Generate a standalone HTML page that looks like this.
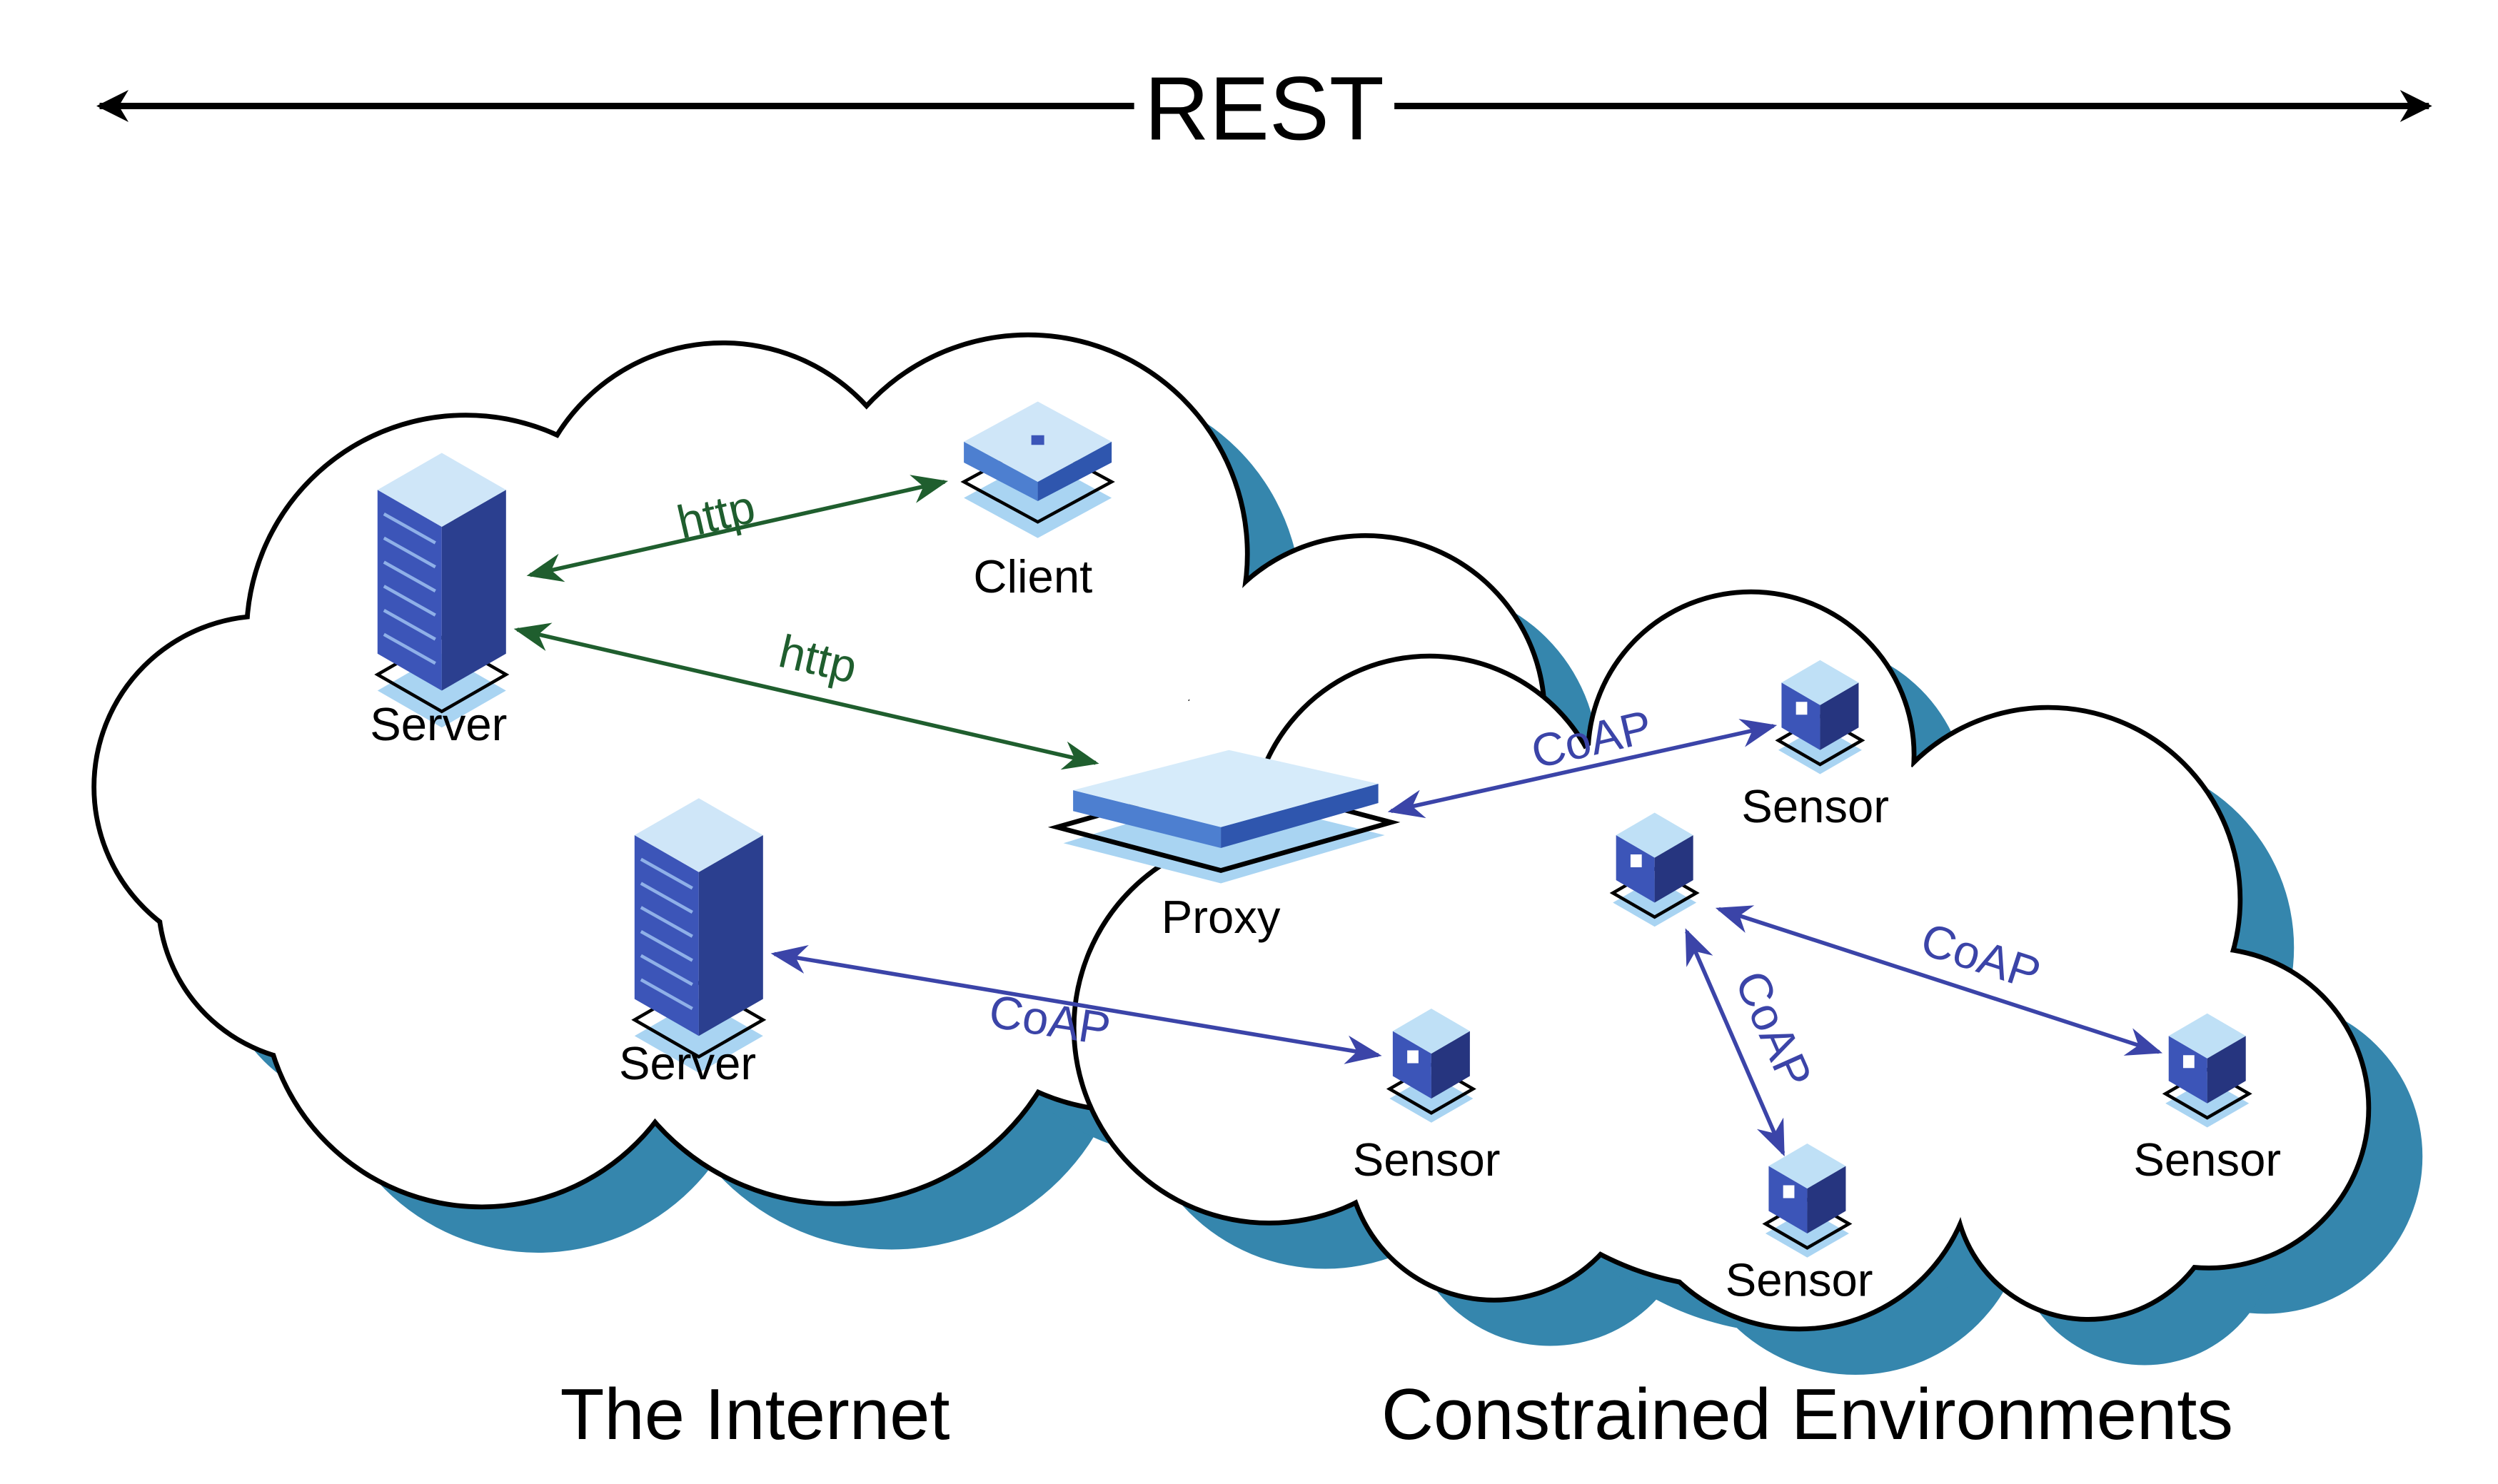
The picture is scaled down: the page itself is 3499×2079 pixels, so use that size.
<!DOCTYPE html>
<html><head><meta charset="utf-8"><style>
html,body{margin:0;padding:0;background:#fff;width:3499px;height:2079px;overflow:hidden}
svg{display:block}
text{font-family:"Liberation Sans",sans-serif}
</style></head><body>
<svg width="3499" height="2079" viewBox="0 0 1555 924" preserveAspectRatio="none" xmlns="http://www.w3.org/2000/svg">
<defs>
<marker id="ab" viewBox="0 0 10 10" refX="9" refY="5" markerWidth="5" markerHeight="5" orient="auto-start-reverse"><path d="M0,0 L10,5 L0,10 L3,5z" fill="#000"/></marker>
<marker id="ag" viewBox="0 0 10 10" refX="9" refY="5" markerWidth="9" markerHeight="9" orient="auto-start-reverse"><path d="M0,1 L10,5 L0,9 L3,5z" fill="#1f5e2e"/></marker>
<marker id="au" viewBox="0 0 10 10" refX="9" refY="5" markerWidth="9" markerHeight="9" orient="auto-start-reverse"><path d="M0,1 L10,5 L0,9 L3,5z" fill="#3b44a8"/></marker>
<g id="lc">
<circle cx="165" cy="490" r="105"/><circle cx="290" cy="395" r="135"/><circle cx="450" cy="335" r="120"/><circle cx="640" cy="345" r="135"/><circle cx="850" cy="445" r="110"/><circle cx="300" cy="615" r="135"/><circle cx="520" cy="600" r="148"/><circle cx="450" cy="480" r="200"/><circle cx="200" cy="560" r="100"/><circle cx="700" cy="560" r="130"/>
</g>
<g id="rc">
<circle cx="790" cy="640" r="120"/><circle cx="890" cy="520" r="110"/><circle cx="1090" cy="470" r="100"/><circle cx="1275" cy="560" r="118"/><circle cx="1375" cy="690" r="98"/><circle cx="1120" cy="718" r="108"/><circle cx="930" cy="718" r="90"/><circle cx="1300" cy="738" r="82"/><circle cx="1080" cy="620" r="180"/>
</g>
<g id="srv">
<path d="M-40,55 L0,78 L40,55 L0,32z" fill="#a9d4f2"/>
<path d="M-40,45 L0,68 L40,45 L0,22z" fill="none" stroke="#000" stroke-width="2"/>
<path d="M-40,-70 L0,-47 L0,55 L-40,32z" fill="#3c55b8"/>
<path d="M0,-47 L40,-70 L40,32 L0,55z" fill="#2b3f8f"/>
<path d="M-40,-70 L0,-93 L40,-70 L0,-47z" fill="#cfe6f8"/>
<g stroke="#8fb0e8" stroke-width="2"><path d="M-36,-55 L-4,-37 M-36,-40 L-4,-22 M-36,-25 L-4,-7 M-36,-10 L-4,8 M-36,5 L-4,23 M-36,20 L-4,38"/></g>
</g>
<g id="sen">
<path d="M-26,22 L0,37 L26,22 L0,7z" fill="#a9d4f2"/>
<path d="M-26,16 L0,31 L26,16 L0,1z" fill="none" stroke="#000" stroke-width="2"/>
<path d="M-24,-20 L0,-6 L0,22 L-24,8z" fill="#3c55b8"/>
<path d="M0,-6 L24,-20 L24,8 L0,22z" fill="#26357f"/>
<path d="M-24,-20 L0,-34 L24,-20 L0,-6z" fill="#bfe0f6"/>
<rect x="-15" y="-8" width="7" height="8" fill="#fff"/>
</g>
</defs>
<line x1="62" y1="66" x2="706" y2="66" stroke="#000" stroke-width="4" marker-start="url(#ab)"/>
<line x1="868" y1="66" x2="1512" y2="66" stroke="#000" stroke-width="4" marker-end="url(#ab)"/>
<text x="787" y="87" font-size="56" text-anchor="middle">REST</text>

<use href="#lc" transform="translate(35,30)" fill="#3586ad"/>
<use href="#lc" fill="#000" stroke="#000" stroke-width="6"/>
<use href="#lc" fill="#fff"/>
<use href="#rc" transform="translate(35,30)" fill="#3586ad"/>
<use href="#rc" fill="#000" stroke="#000" stroke-width="6"/>
<use href="#rc" fill="#fff"/>

<use href="#srv" x="275" y="375"/>
<use href="#srv" x="435" y="590"/>
<text x="273" y="461" font-size="29" text-anchor="middle">Server</text>
<text x="428" y="672" font-size="29" text-anchor="middle">Server</text>

<path d="M600,310 L646,335 L692,310 L646,285z" fill="#a9d4f2"/>
<path d="M600,300 L646,325 L692,300 L646,275z" fill="none" stroke="#000" stroke-width="2"/>
<path d="M600,275 L646,300 L646,312 L600,288z" fill="#4d7fd0"/>
<path d="M646,300 L692,275 L692,288 L646,312z" fill="#2f56ae"/>
<path d="M600,275 L646,250 L692,275 L646,300z" fill="#cfe6f8"/>
<rect x="642" y="271" width="8" height="6" fill="#3c55b8"/>
<text x="643" y="369" font-size="29" text-anchor="middle">Client</text>

<path d="M662,525 L760,550 L862,520 L760,495z" fill="#a9d4f2"/>
<path d="M658,515 L760,542 L866,512 L764,485z" fill="none" stroke="#000" stroke-width="3"/>
<path d="M668,492 L760,515 L760,528 L668,505z" fill="#4d7fd0"/>
<path d="M760,515 L858,488 L858,500 L760,528z" fill="#2f56ae"/>
<path d="M668,492 L765,467 L858,488 L760,515z" fill="#d6ebfa"/>
<text x="760" y="581" font-size="29" text-anchor="middle">Proxy</text>

<use href="#sen" x="1133" y="445"/>
<use href="#sen" x="1030" y="540"/>
<use href="#sen" x="891" y="662"/>
<use href="#sen" x="1125" y="746"/>
<use href="#sen" x="1374" y="665"/>
<g font-size="29" text-anchor="middle">
<text x="1130" y="512">Sensor</text>
<text x="888" y="732">Sensor</text>
<text x="1120" y="807">Sensor</text>
<text x="1374" y="732">Sensor</text>
</g>

<g stroke="#1f5e2e" stroke-width="2.5" fill="none">
<line x1="330" y1="358" x2="588" y2="300" marker-start="url(#ag)" marker-end="url(#ag)"/>
<line x1="322" y1="392" x2="682" y2="475" marker-start="url(#ag)" marker-end="url(#ag)"/>
</g>
<g fill="#1f5e2e" font-size="29">
<text x="448" y="330" transform="rotate(-13 448 330)" text-anchor="middle">http</text>
<text x="507" y="420" transform="rotate(13 507 420)" text-anchor="middle">http</text>
</g>
<g stroke="#3b44a8" stroke-width="2.5" fill="none">
<line x1="866" y1="505" x2="1104" y2="452" marker-start="url(#au)" marker-end="url(#au)"/>
<line x1="482" y1="594" x2="858" y2="657" marker-start="url(#au)" marker-end="url(#au)"/>
<line x1="1070" y1="566" x2="1344" y2="655" marker-start="url(#au)" marker-end="url(#au)"/>
<line x1="1050" y1="580" x2="1110" y2="718" marker-start="url(#au)" marker-end="url(#au)"/>
</g>
<g fill="#3b44a8" font-size="29" text-anchor="middle">
<text x="993" y="470" transform="rotate(-13 993 470)">CoAP</text>
<text x="652" y="645" transform="rotate(9 652 645)">CoAP</text>
<text x="1230" y="605" transform="rotate(18 1230 605)">CoAP</text>
<text x="1095" y="645" transform="rotate(66 1095 645)">CoAP</text>
</g>

<text x="470" y="896" font-size="45" text-anchor="middle">The Internet</text>
<text x="1125" y="896" font-size="45" text-anchor="middle">Constrained Environments</text>
</svg>
</body></html>
